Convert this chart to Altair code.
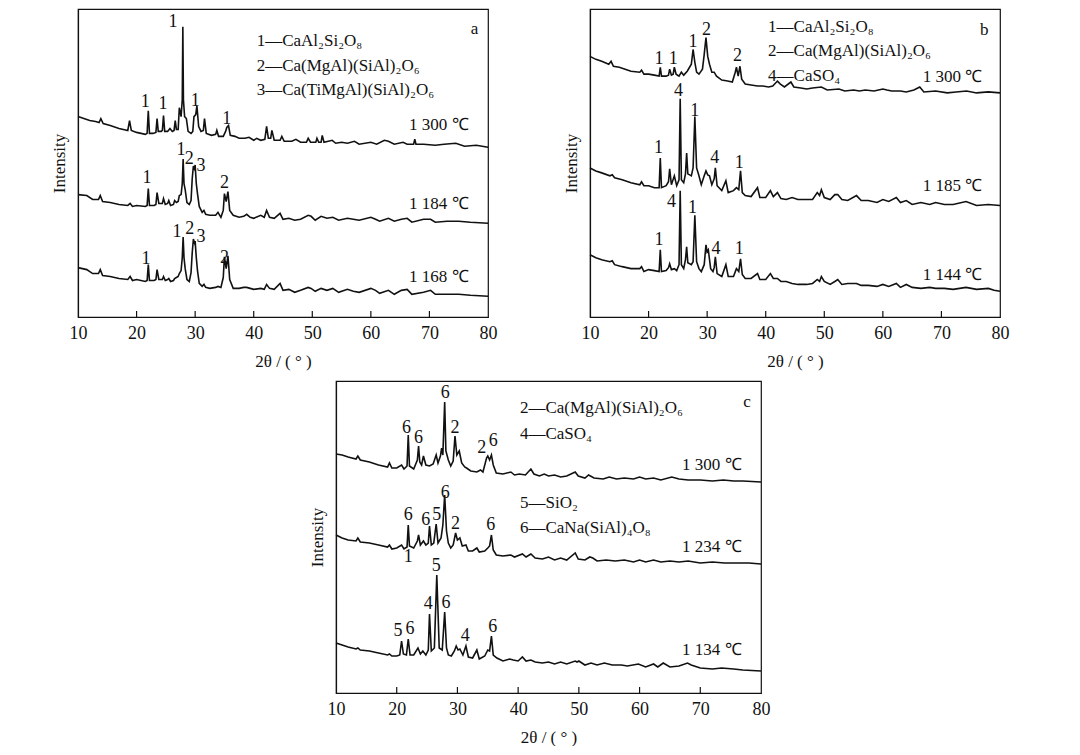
import altair as alt
import pandas as pd

FONT = "Liberation Serif"
TICKS = [10, 20, 30, 40, 50, 60, 70, 80]

# ---------------- panel a (heights in px-like intensity units, stacked as drawn) -------------
A1300 = [(10,203),(11,201),(12,199),(13,198),(13.6,197),(13.9,201),(14.3,196),(15.5,194),(17,191),(18.5,189),(18.8,199),(19.1,189),(20,187),(21.5,185),(21.8,186),(22.0,209),(22.2,186),(22.8,186),(23.3,187),(23.5,201),(23.7,188),(24.2,188),(24.4,189),(24.6,204),(24.8,188),(25.3,188),(25.7,191),(26.1,188),(26.4,189),(26.6,199),(26.8,190),(27.1,190),(27.3,212),(27.6,203),(27.8,220),(27.9,294),(28.0,220),(28.2,203),(28.5,201),(28.8,188),(29.3,186),(29.6,188),(29.8,203),(30.1,205),(30.3,214),(30.6,193),(31.0,188),(31.4,189),(31.6,201),(31.9,186),(32.8,184),(33.5,185),(33.7,189),(34.0,183),(34.8,183),(35.2,188),(35.4,192),(35.7,194),(36.0,184),(36.8,183),(37.5,181),(38.5,181),(39.2,182),(40.0,179),(40.5,181),(41.2,179),(41.9,180),(42.2,193),(42.5,181),(42.9,181),(43.1,189),(43.5,179),(44.5,179),(44.8,183),(45.2,178),(46.5,178),(47.2,180),(48.0,177),(49.0,177),(49.3,181),(49.7,177),(50.6,177),(50.8,181),(51.1,177),(51.5,177),(51.7,184),(52.0,177),(53.4,179),(54.0,176),(55.0,177),(56.0,176),(57.2,178),(58.0,175),(60.0,177),(61.0,175),(62.3,179),(63.0,178),(64.0,175),(65.5,177),(66.2,175),(67.3,175),(67.5,180),(67.7,175),(69.0,175),(71.0,174),(72.5,175),(74.5,176),(76.0,173),(78.0,174),(80.0,172)]
A1184 = [(10,124),(11.5,123),(12.5,119),(13.5,119),(13.8,123),(14.2,117),(15.5,116),(17,114),(18.5,113),(18.9,115),(19.3,112),(20,113),(21.5,112),(21.8,113),(22.0,130),(22.2,113),(23.0,113),(23.3,114),(23.5,126),(23.8,115),(24.4,115),(24.6,120),(24.9,114),(25.3,115),(25.5,118),(25.8,113),(26.3,114),(26.5,118),(26.8,116),(27.1,117),(27.3,123),(27.6,124),(27.8,135),(27.95,160),(28.1,135),(28.3,129),(28.6,116),(29.0,114),(29.3,118),(29.5,140),(29.7,153),(29.9,150),(30.0,154),(30.2,135),(30.4,125),(30.7,112),(31.2,106),(31.5,108),(31.8,104),(32.5,103),(33.5,103),(33.9,106),(34.4,101),(34.8,108),(35.0,125),(35.3,117),(35.6,127),(35.9,108),(36.5,103),(37.5,101),(38.3,102),(38.8,104),(39.4,101),(40.0,100),(41.2,103),(41.8,101),(42.2,108),(42.7,101),(43.5,100),(44.5,105),(45.0,99),(46.0,100),(47.0,98),(48.0,99),(49.3,103),(49.8,102),(50.5,98),(51.5,102),(52.5,100),(53.5,101),(54.5,98),(56.0,100),(57.0,99),(58.0,98),(60.0,101),(60.8,99),(61.5,97),(63.0,100),(64.0,97),(65.2,99),(66.2,100),(67.0,96),(69.0,99),(70.2,99),(71.0,96),(73.0,97),(75.0,97),(77.0,96),(80.0,95)]
A1168 = [(10,50),(11.5,48),(12.5,44),(13.5,44),(13.8,48),(14.2,42),(15.5,41),(17,39),(18.5,38),(18.9,41),(19.3,37),(20,38),(21.5,36),(21.8,37),(22.0,53),(22.2,37),(23.0,37),(23.3,38),(23.5,48),(23.8,38),(24.4,38),(24.6,41),(24.9,37),(25.3,38),(25.5,39),(25.8,36),(26.3,37),(26.5,39),(26.8,40),(27.1,41),(27.3,44),(27.6,47),(27.8,60),(27.95,81),(28.1,60),(28.3,49),(28.6,38),(29.0,36),(29.3,45),(29.5,65),(29.7,79),(29.9,75),(30.0,77),(30.2,60),(30.4,47),(30.7,34),(31.2,31),(31.5,33),(31.8,30),(32.5,29),(33.5,30),(33.9,31),(34.4,30),(34.8,40),(35.0,61),(35.3,49),(35.6,62),(35.9,38),(36.5,29),(37.5,29),(38.3,30),(38.8,30),(39.4,29),(40.0,28),(41.2,29),(41.8,28),(42.2,33),(42.7,29),(43.5,28),(44.5,34),(45.0,27),(46.0,28),(47.0,25),(48.0,27),(49.3,30),(49.8,29),(50.5,26),(51.5,29),(52.5,27),(53.5,29),(54.5,25),(56.0,28),(57.0,26),(58.0,25),(60.0,29),(60.8,27),(61.5,24),(63.0,27),(64.0,23),(65.2,27),(66.2,28),(67.0,23),(69.0,25),(70.2,27),(71.0,23),(73.0,23),(75.0,23),(77.0,22),(80.0,21)]

A_PEAKS = [(26.2,299,"1"),(21.5,218,"1"),(24.5,216,"1"),(30.0,219,"1"),(35.4,201,"1"),
           (21.8,141,"1"),(27.6,169,"1"),(29.0,160,"2"),(31.0,153,"3"),(35.0,136,"2"),
           (21.6,59,"1"),(26.9,86,"1"),(29.1,89,"2"),(31.0,81,"3"),(35.0,60,"2")]
A_TEMPS = [(71.6,194,"1 300 ℃"),(71.6,114,"1 184 ℃"),(71.6,41,"1 168 ℃")]
A_LEGEND = [(40.5,280,"1—CaAl₂Si₂O₈"),(40.5,254,"2—Ca(MgAl)(SiAl)₂O₆"),(40.5,230,"3—Ca(TiMgAl)(SiAl)₂O₆")]
A_TAG = [(77.7,292,"a")]

# ---------------- panel b ----------------
B1300 = [(10,264),(11,261),(12,259),(13.2,256),(13.6,259),(14.0,254),(15,253),(16,251),(17,249),(18.5,248),(18.8,250),(19.2,246),(20,246),(21,245),(21.8,244),(22.0,253),(22.2,244),(23.0,244),(23.4,245),(23.6,251),(23.9,245),(24.2,246),(24.4,253),(24.7,246),(25.2,244),(25.6,248),(26.0,245),(26.6,249),(27.0,253),(27.3,256),(27.6,271),(27.9,258),(28.2,248),(28.6,246),(29.2,251),(29.5,266),(29.8,283),(30.1,264),(30.4,256),(30.8,248),(31.2,248),(31.6,244),(32.5,240),(33.5,239),(34.3,238),(34.8,248),(35.0,253),(35.3,244),(35.6,254),(35.9,241),(36.5,236),(37.5,235),(38.6,234),(39.5,234),(40.5,233),(41.2,234),(42.0,239),(42.5,236),(43.2,233),(44.3,238),(44.8,233),(46.0,232),(47.0,231),(48.0,232),(49.5,233),(50.5,230),(52.5,231),(53.5,229),(55.0,230),(56.0,229),(57.0,230),(58.5,229),(60.0,231),(60.7,230),(61.5,229),(63.0,229),(64.0,228),(65.3,230),(66.3,233),(67.0,228),(69.0,229),(71.0,227),(72.5,228),(74.3,229),(76.0,227),(78.0,228),(80,227)]
B1185 = [(10,151),(11,148),(12,146),(13.4,143),(13.8,144),(14.2,141),(15.5,139),(17,136),(18.5,134),(18.8,137),(19.2,133),(20,133),(21,131),(21.8,131),(22.0,161),(22.2,131),(23.0,133),(23.4,137),(23.6,150),(23.9,134),(24.4,143),(24.8,133),(25.2,139),(25.4,221),(25.6,139),(26.0,136),(26.3,145),(26.5,166),(26.7,145),(27.3,143),(27.6,151),(27.9,203),(28.2,151),(28.6,143),(29.0,134),(29.5,143),(29.8,148),(30.1,144),(30.4,143),(30.8,134),(31.2,140),(31.4,151),(31.7,133),(32.5,128),(33.2,138),(33.6,126),(34.5,128),(35.0,131),(35.4,129),(35.7,148),(36.0,126),(36.5,123),(37.5,122),(38.6,131),(39.0,121),(40.0,121),(40.8,128),(41.3,122),(42.0,126),(42.6,120),(43.5,119),(44.5,121),(45.5,119),(47.0,119),(48.0,119),(48.8,126),(49.2,123),(49.5,129),(50.0,121),(51.0,119),(51.8,124),(52.3,124),(53.0,119),(54.0,118),(55.5,123),(56.3,118),(57.5,118),(59.0,116),(60.0,119),(61.0,117),(62.3,121),(63.0,116),(64.0,118),(65.0,114),(66.5,116),(68.0,114),(69.0,116),(70.5,114),(72.0,114),(74.2,117),(76.0,113),(78.0,114),(80,113)]
B1144 = [(10,63),(11,60),(12,58),(13.4,56),(13.8,57),(14.2,53),(15.5,51),(17,49),(18.5,49),(18.8,51),(19.2,46),(20,48),(21,47),(21.8,46),(22.0,68),(22.2,46),(23.0,47),(23.4,50),(23.6,54),(23.9,48),(24.4,49),(24.8,47),(25.2,53),(25.4,128),(25.6,53),(26.0,49),(26.3,58),(26.5,71),(26.7,55),(27.3,53),(27.6,56),(27.9,103),(28.2,56),(28.6,49),(29.0,46),(29.5,53),(29.8,73),(30.0,66),(30.2,68),(30.6,49),(31.0,46),(31.2,50),(31.4,61),(31.7,44),(32.5,41),(33.2,53),(33.6,41),(34.5,41),(35.0,49),(35.4,46),(35.7,59),(36.0,43),(36.5,39),(37.5,39),(38.6,44),(39.0,38),(40.0,38),(40.8,44),(41.3,39),(42.0,39),(42.6,36),(43.5,36),(44.5,34),(45.5,33),(47.0,33),(48.0,34),(48.8,38),(49.2,36),(49.5,41),(50.0,36),(51.0,33),(51.8,36),(52.3,38),(53.0,33),(54.0,34),(55.5,34),(56.3,32),(57.5,32),(59.0,31),(60.0,33),(61.0,31),(62.3,34),(63.0,30),(64.0,33),(65.0,30),(66.5,29),(68.0,30),(69.0,29),(70.5,29),(72.0,28),(74.2,30),(76.0,28),(78.0,29),(79.0,27),(80,26)]

B_PEAKS = [(21.8,261,"1"),(24.2,261,"1"),(27.6,279,"1"),(29.9,291,"2"),(35.2,264,"2"),
           (21.7,171,"1"),(25.1,229,"4"),(27.9,209,"1"),(31.3,161,"4"),(35.5,156,"1"),
           (21.8,78,"1"),(23.9,117,"4"),(27.5,110,"1"),(31.5,69,"4"),(35.5,69,"1")]
B_TEMPS = [(71.9,243,"1 300 ℃"),(71.9,133,"1 185 ℃"),(71.9,43,"1 144 ℃")]
B_LEGEND = [(40.4,294,"1—CaAl₂Si₂O₈"),(40.4,269,"2—Ca(MgAl)(SiAl)₂O₆"),(40.4,244,"4—CaSO₄")]
B_TAG = [(77.3,291,"b")]

# ---------------- panel c ----------------
C1300 = [(10,239),(11,238),(12,236),(13.3,234),(13.6,237),(14.0,233),(15.5,231),(17,228),(18.5,226),(18.8,230),(19.2,225),(20,225),(20.8,228),(21.2,224),(21.7,227),(21.9,258),(22.1,227),(22.8,224),(23.4,233),(23.6,247),(23.8,231),(24.1,228),(24.4,237),(24.8,228),(25.4,227),(26.0,229),(26.5,238),(26.8,230),(27.2,237),(27.4,245),(27.6,238),(27.9,291),(28.1,242),(28.5,233),(28.9,227),(29.3,232),(29.6,257),(29.9,238),(30.3,242),(30.7,230),(31.2,226),(31.5,225),(32.2,222),(33.2,221),(33.8,223),(34.2,221),(34.8,235),(35.0,237),(35.3,233),(35.6,238),(35.9,228),(36.4,220),(37.5,219),(38.8,221),(39.4,218),(40.2,219),(41.2,218),(42.1,224),(42.6,219),(43.5,217),(44.3,219),(45.0,217),(46.0,218),(47.0,216),(48.0,217),(49.4,221),(49.9,217),(51.0,215),(51.6,218),(52.5,215),(54.0,214),(55.0,216),(56.2,214),(57.5,215),(59.0,214),(60.0,216),(61.0,214),(62.3,215),(63.5,213),(65.3,216),(66.5,214),(68.0,213),(70.0,213),(72.0,212),(73.8,213),(75.5,212),(77.0,212),(80,211)]
C1234 = [(10,158),(11,155),(12,153),(13.3,152),(13.6,155),(14.0,151),(15.5,150),(17,148),(18.5,146),(18.8,148),(19.2,144),(20,145),(20.8,148),(21.2,144),(21.7,146),(21.9,168),(22.1,147),(22.8,145),(23.4,152),(23.6,158),(23.9,148),(24.4,152),(24.8,148),(25.2,150),(25.4,167),(25.7,148),(26.1,150),(26.5,169),(26.8,150),(27.3,155),(27.6,168),(27.9,198),(28.2,162),(28.5,150),(28.9,145),(29.3,148),(29.7,160),(30.0,153),(30.4,155),(30.8,147),(31.4,148),(31.8,142),(32.5,142),(33.2,145),(33.6,141),(34.5,142),(35.0,145),(35.3,147),(35.6,158),(35.9,143),(36.4,138),(37.5,137),(38.8,138),(39.4,136),(40.7,139),(41.3,136),(42.1,139),(42.8,135),(44.0,134),(45.0,136),(46.0,133),(47.0,135),(48.0,133),(49.4,140),(49.9,134),(51.0,133),(51.8,136),(52.3,135),(53.0,132),(54.5,133),(56.0,132),(57.5,133),(59.0,131),(60.0,133),(61.0,131),(62.3,133),(63.5,131),(65.0,132),(66.5,131),(68.0,132),(70.0,130),(72.0,131),(74.0,130),(76.0,130),(78.0,130),(80,129)]
C1134 = [(10,50),(11,48),(12,46),(13.3,44),(13.6,45),(14.0,43),(15.5,42),(17,40),(18.5,38),(18.8,39),(19.2,37),(20,37),(20.5,38),(20.8,52),(21.1,39),(21.6,38),(21.9,54),(22.2,38),(22.8,38),(23.5,45),(23.9,39),(24.3,42),(24.8,38),(25.2,43),(25.4,79),(25.7,42),(26.2,45),(26.6,118),(27.0,45),(27.5,43),(27.9,81),(28.2,45),(28.5,38),(29.0,37),(29.5,42),(29.8,47),(30.1,43),(30.4,44),(30.9,38),(31.4,47),(31.8,36),(32.5,35),(33.2,43),(33.6,34),(34.5,37),(35.0,43),(35.3,42),(35.6,57),(35.9,38),(36.5,35),(37.5,32),(38.6,34),(39.2,33),(40.0,32),(40.7,36),(41.3,32),(42.1,33),(42.8,31),(44.0,30),(45.0,31),(46.0,29),(47.0,31),(48.0,29),(49.4,32),(49.7,31),(50.0,32),(51.0,28),(52.0,30),(53.0,28),(54.2,30),(55.5,28),(57.0,28),(58.0,27),(59.8,29),(61.0,26),(62.3,29),(63.0,26),(63.9,30),(65.0,26),(66.5,27),(67.9,30),(68.5,28),(70.0,25),(72.0,24),(73.5,25),(75.5,24),(77.0,23),(80,22)]

C_PEAKS = [(21.6,265,"6"),(23.6,255,"6"),(28.0,300,"6"),(29.6,265,"2"),(34.0,245,"2"),(35.9,252,"6"),
           (21.9,178,"6"),(24.8,173,"6"),(26.6,178,"5"),(28.0,200,"6"),(29.7,169,"2"),(35.5,168,"6"),(21.9,136,"1"),
           (20.2,62,"5"),(22.2,64,"6"),(25.2,89,"4"),(26.5,127,"5"),(28.1,90,"6"),(31.3,57,"4"),(35.8,66,"6")]
C_TEMPS = [(71.9,228,"1 300 ℃"),(71.9,146,"1 234 ℃"),(71.9,43,"1 134 ℃")]
C_LEGEND = [(40.3,285,"2—Ca(MgAl)(SiAl)₂O₆"),(40.3,259,"4—CaSO₄"),(40.3,190,"5—SiO₂"),(40.3,165,"6—CaNa(SiAl)₄O₈")]
C_TAG = [(77.7,291,"c")]


def curves_df(curves):
    rows = []
    for name, pts in curves.items():
        for i, (x, y) in enumerate(pts):
            rows.append({"s": name, "x": x, "y": y, "i": i})
    return pd.DataFrame(rows)


def text_df(items):
    return pd.DataFrame([{"x": x, "y": y, "t": t} for x, y, t in items])


def panel(curves, peaks, temps, legend, tag, W, H):
    xs = alt.Scale(domain=[10, 80], nice=False, zero=False)
    ys = alt.Scale(domain=[0, 312], nice=False, zero=False)
    X = alt.X("x:Q", scale=xs, axis=alt.Axis(values=TICKS, ticks=False, grid=False, format="d",
                                            title="2θ / ( ° )", labelPadding=7, titlePadding=11,
                                            labelFlush=False))
    Y = alt.Y("y:Q", scale=ys, axis=alt.Axis(labels=False, ticks=False, grid=False,
                                            title="Intensity", titlePadding=10))
    lines = alt.Chart(curves_df(curves)).mark_line(color="#111", strokeWidth=1.6).encode(
        x=X, y=Y, detail="s:N", order="i:Q")
    ticks = alt.Chart(pd.DataFrame({"x": TICKS[1:-1]})).mark_rule(color="#111", strokeWidth=1.2).encode(
        x=X, y=alt.value(H), y2=alt.value(H - 6))
    pk = alt.Chart(text_df(peaks)).mark_text(font=FONT, fontSize=18, color="#111",
                                             align="center", baseline="middle").encode(x=X, y=Y, text="t:N")
    tp = alt.Chart(text_df(temps)).mark_text(font=FONT, fontSize=17, color="#111",
                                             align="center", baseline="middle").encode(x=X, y=Y, text="t:N")
    lg = alt.Chart(text_df(legend)).mark_text(font=FONT, fontSize=17, color="#111",
                                              align="left", baseline="middle").encode(x=X, y=Y, text="t:N")
    tg = alt.Chart(text_df(tag)).mark_text(font=FONT, fontSize=17, color="#111",
                                           align="center", baseline="middle").encode(x=X, y=Y, text="t:N")
    return alt.layer(lines, ticks, pk, tp, lg, tg).properties(width=W, height=H)


pa = panel({"1300": A1300, "1184": A1184, "1168": A1168}, A_PEAKS, A_TEMPS, A_LEGEND, A_TAG, 410, 308)
pb = panel({"1300": B1300, "1185": B1185, "1144": B1144}, B_PEAKS, B_TEMPS, B_LEGEND, B_TAG, 410, 308)
pc = panel({"1300": C1300, "1234": C1234, "1134": C1134}, C_PEAKS, C_TEMPS, C_LEGEND, C_TAG, 425, 312)

spacer = alt.Chart(pd.DataFrame({"v": [0]})).mark_point(opacity=0).encode(
    x=alt.value(1), y=alt.value(1), size=alt.value(1)
).properties(width=228, height=5, view=alt.ViewBackground(stroke="transparent"))

top = alt.hconcat(pa, pb, spacing=63)
bottom = alt.hconcat(spacer, pc, spacing=0)
chart = alt.vconcat(top, bottom, spacing=10).properties(
    padding={"left": 41, "top": 0, "right": 5, "bottom": 0}
).configure_view(stroke="#111", strokeWidth=1.2).configure_axis(
    domainColor="#111", domainWidth=1.2, labelFont=FONT, labelFontSize=18, labelColor="#111",
    titleFont=FONT, titleFontSize=17, titleFontWeight="normal", titleColor="#111"
).configure_concat(spacing=0)

chart.save("out.html", embed_options={"renderer": "svg", "actions": False})
